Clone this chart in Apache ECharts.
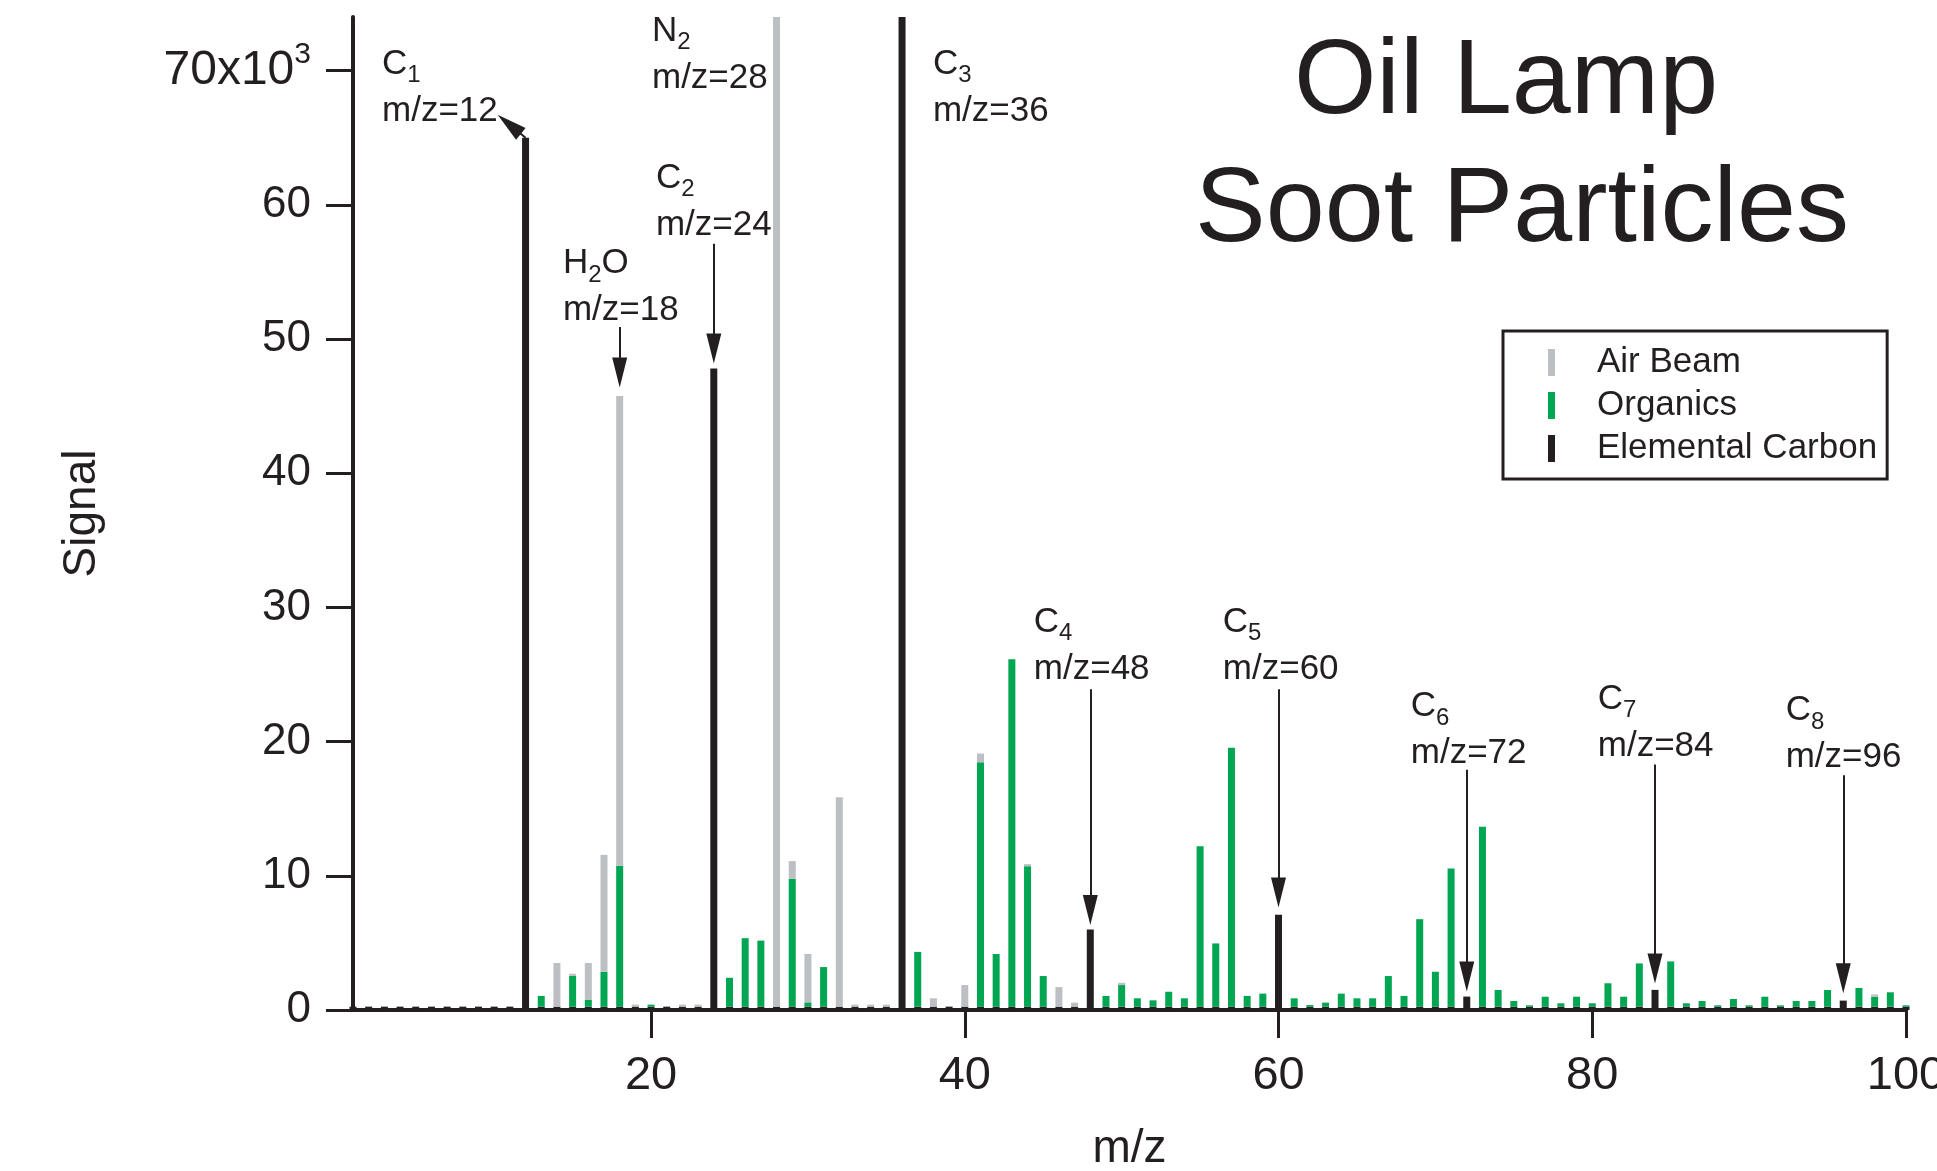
<!DOCTYPE html>
<html>
<head>
<meta charset="utf-8">
<script src="https://cdn.jsdelivr.net/npm/echarts@6/dist/echarts.min.js"></script>
<style>
html,body{margin:0;padding:0;background:#ffffff;}
#chart{width:1937px;height:1171px;}
</style>
</head>
<body>
<div id="chart"></div>
<script>
// m/z values 1..100
const mzValues = [
  1,2,3,4,5,6,7,8,9,10,
  11,12,13,14,15,16,17,18,19,20,
  21,22,23,24,25,26,27,28,29,30,
  31,32,33,34,35,36,37,38,39,40,
  41,42,43,44,45,46,47,48,49,50,
  51,52,53,54,55,56,57,58,59,60,
  61,62,63,64,65,66,67,68,69,70,
  71,72,73,74,75,76,77,78,79,80,
  81,82,83,84,85,86,87,88,89,90,
  91,92,93,94,95,96,97,98,99,100
];
// Signal in units of 10^3 (stacked: elemental carbon, organics, air beam)
const elementalCarbon = [
  0.25,0.25,0.25,0.25,0.25,0.25,0.25,0.25,0.25,0.25,
  0.25,65,0.25,0.25,0.25,0.25,0.25,0.25,0.25,0.25,
  0.25,0.25,0.25,47.8,0.25,0.25,0.25,0.25,0.25,0.25,
  0.25,0.25,0.25,0.25,0.25,80,0.25,0.25,0.25,0.25,
  0.25,0.25,0.25,0.25,0.25,0.25,0.25,6.0,0.25,0.25,
  0.25,0.25,0.25,0.25,0.25,0.25,0.25,0.25,0.25,7.1,
  0.25,0.25,0.25,0.25,0.25,0.25,0.25,0.25,0.25,0.25,
  0.25,1.0,0.25,0.25,0.25,0.25,0.25,0.25,0.25,0.25,
  0.25,0.25,0.25,1.5,0.25,0.25,0.25,0.25,0.25,0.25,
  0.25,0.25,0.25,0.25,0.25,0.7,0.25,0.25,0.25,0.25
];
const organics = [
  0,0,0,0,0,0,0,0,0,0,
  0,0,0.8,0,2.3,0.5,2.6,10.5,0,0.15,
  0,0,0,0,2.15,5.1,4.92,0,9.53,0.32,
  2.95,0,0,0,0,0,4.08,0,0,0,
  18.21,3.92,25.88,10.47,2.28,0,0,0,0.8,1.61,
  0.62,0.47,1.11,0.62,11.95,4.71,19.3,0.8,0.97,0,
  0.62,0.12,0.3,0.97,0.62,0.62,2.28,0.8,6.52,2.6,
  10.3,0,13.4,1.24,0.42,0.1,0.74,0.25,0.74,0.25,
  1.74,0.74,3.22,0,3.37,0.25,0.42,0.1,0.57,0.1,
  0.74,0.1,0.42,0.42,1.24,0,1.39,0.74,1.07,0.1
];
const airBeam = [
  0,0,0,0,0,0,0,0,0,0,
  0,0,0,3.25,0.15,2.75,8.71,35.0,0.15,0,
  0,0.15,0.15,0,0,0,0,250,1.32,3.61,
  0,15.6,0.15,0.15,0.15,0,0,0.62,0,1.61,
  0.65,0,0,0.15,0,1.46,0.3,0,0,0.17,
  0,0,0,0,0,0,0,0,0,0,
  0,0,0,0,0,0,0,0,0,0,
  0,0,0,0,0,0,0,0,0,0,
  0,0,0,0,0,0,0,0,0,0,
  0,0,0,0,0,0,0,0.17,0,0
];
const xTickValues = [20, 40, 60, 80, 100];
const yTickValues = [0, 10, 20, 30, 40, 50, 60, 70];
const seriesNames = ['Air Beam', 'Organics', 'Elemental Carbon'];

// peak annotations: label block centre (m/z, signal)
const annotations = [
  {chem: '{m|C}{s|1}',        mz: 'm/z=12', at: [2.85, 68.72]},
  {chem: '{m|N}{s|2}',        mz: 'm/z=28', at: [20.06, 71.18]},
  {chem: '{m|C}{s|2}',        mz: 'm/z=24', at: [20.31, 60.23]},
  {chem: '{m|H}{s|2}{m|O}',   mz: 'm/z=18', at: [14.38, 53.88]},
  {chem: '{m|C}{s|3}',        mz: 'm/z=36', at: [37.97, 68.72]},
  {chem: '{m|C}{s|4}',        mz: 'm/z=48', at: [44.40, 27.15]},
  {chem: '{m|C}{s|5}',        mz: 'm/z=60', at: [56.45, 27.15]},
  {chem: '{m|C}{s|6}',        mz: 'm/z=72', at: [68.43, 20.85]},
  {chem: '{m|C}{s|7}',        mz: 'm/z=84', at: [80.35, 21.41]},
  {chem: '{m|C}{s|8}',        mz: 'm/z=96', at: [92.33, 20.55]}
];
// arrows: from (m/z, signal) to arrow-head centre (m/z, signal)
const arrows = [
  [[12, 65.0], [10.96, 66.0]],
  [[18, 50.9], [18, 47.5]],
  [[24, 57.1], [24, 49.3]],
  [[48, 23.9], [48, 7.45]],
  [[60, 23.9], [60, 8.75]],
  [[72, 17.9], [72, 2.49]],
  [[84, 18.3], [84, 3.1]],
  [[96, 17.5], [96, 2.36]]
];

const INK = '#231f20';
const FONT = "'Liberation Sans', Arial, Helvetica, sans-serif";

const chart = echarts.init(document.getElementById('chart'), null, {renderer: 'canvas'});

const isTick = function (index, value) { return xTickValues.indexOf(Number(value)) >= 0; };

const option = {
  animation: false,
  backgroundColor: '#ffffff',
  textStyle: {fontFamily: FONT, color: INK},
  grid: {left: 353, right: 31, top: 17, bottom: 161, containLabel: false, outerBoundsMode: 'none'},
  legend: {
    orient: 'vertical', left: 1503, top: 331,
    data: seriesNames,
    icon: 'rect', itemWidth: 7, itemHeight: 27, itemGap: 8,
    borderColor: INK, borderWidth: 3, borderRadius: 0,
    padding: [14, 10, 13, 45],
    selectedMode: false,
    textStyle: {fontSize: 35, color: INK, fontFamily: FONT, padding: [0, 0, 0, 37]}
  },
  xAxis: {
    type: 'category', data: mzValues.map(String), boundaryGap: false,
    name: 'm/z', nameLocation: 'middle', nameGap: 116,
    nameTextStyle: {fontSize: 46, color: INK, fontFamily: FONT},
    axisLine: {show: true, onZero: true, lineStyle: {color: INK, width: 4}},
    axisTick: {show: true, interval: isTick, alignWithLabel: true, length: 28, lineStyle: {color: INK, width: 3}},
    axisLabel: {show: true, interval: isTick, margin: 43, fontSize: 47, color: INK, fontFamily: FONT},
    splitLine: {show: false}
  },
  yAxis: {
    type: 'value', min: 0, max: 74,
    name: 'Signal', nameLocation: 'middle', nameGap: 248,
    nameTextStyle: {fontSize: 46, color: INK, fontFamily: FONT},
    axisLine: {show: true, lineStyle: {color: INK, width: 4}},
    axisTick: {show: true, customValues: yTickValues, length: 27, lineStyle: {color: INK, width: 3}},
    axisLabel: {
      show: true, customValues: yTickValues, margin: 42, fontSize: 44, color: INK, fontFamily: FONT,
      formatter: function (v) { return v === 70 ? '{a|70x10}{p|3}' : String(v); },
      rich: {
        a: {fontSize: 48, lineHeight: 62, color: INK, fontFamily: FONT},
        p: {fontSize: 30, lineHeight: 16, verticalAlign: 'top', color: INK, fontFamily: FONT}
      }
    },
    splitLine: {show: false}
  },
  series: [
    {
      name: 'Elemental Carbon', type: 'bar', stack: 'total', barWidth: 7,
      itemStyle: {color: INK}, data: elementalCarbon, clip: true,
      emphasis: {disabled: true}
    },
    {
      name: 'Organics', type: 'bar', stack: 'total', barWidth: 7,
      itemStyle: {color: '#00a651'}, data: organics, clip: true,
      emphasis: {disabled: true}
    },
    {
      name: 'Air Beam', type: 'bar', stack: 'total', barWidth: 7,
      itemStyle: {color: '#bcbfc4'}, data: airBeam, clip: true,
      emphasis: {disabled: true}
    }
  ]
};
chart.setOption(option);

// pixel position of a (possibly fractional) m/z and a signal value
function toPx(mz, v) {
  const idx = mz - 1;
  const i0 = Math.min(Math.floor(idx), mzValues.length - 2);
  const f = idx - i0;
  const a = chart.convertToPixel({gridIndex: 0}, [i0, v]);
  const b = chart.convertToPixel({gridIndex: 0}, [i0 + 1, v]);
  return [a[0] + (b[0] - a[0]) * f, a[1]];
}

chart.setOption({
  series: [{
    name: 'Elemental Carbon',
    markLine: {
      silent: true, animation: false,
      symbol: ['none', 'triangle'], symbolSize: [15, 30],
      label: {show: false},
      emphasis: {disabled: true},
      lineStyle: {color: INK, width: 2, type: 'solid'},
      itemStyle: {color: INK},
      data: arrows.map(function (a) {
        const p0 = toPx(a[0][0], a[0][1]);
        const p1 = toPx(a[1][0], a[1][1]);
        return [{x: p0[0], y: p0[1]}, {x: p1[0], y: p1[1]}];
      })
    }
  }]
});

const richStyles = {
  m: {fontSize: 35, lineHeight: 47, fontFamily: FONT, fill: INK},
  s: {fontSize: 24, lineHeight: 20, verticalAlign: 'bottom', fontFamily: FONT, fill: INK}
};
const graphics = annotations.map(function (a) {
  const p = toPx(a.at[0], a.at[1]);
  return {
    type: 'text', x: p[0], y: p[1], silent: true, z: 100,
    style: {
      text: a.chem + '\n{m|' + a.mz + '}',
      rich: richStyles,
      align: 'left', verticalAlign: 'middle',
      fill: INK, font: '35px ' + FONT
    }
  };
});
graphics.push({
  type: 'text', x: 1506, y: 84, silent: true,
  style: {text: 'Oil Lamp', fill: INK, font: '106px ' + FONT, align: 'center', verticalAlign: 'middle'}
});
graphics.push({
  type: 'text', x: 1522, y: 212, silent: true,
  style: {text: 'Soot Particles', fill: INK, font: '106px ' + FONT, align: 'center', verticalAlign: 'middle'}
});
chart.setOption({graphic: graphics});
</script>
</body>
</html>
